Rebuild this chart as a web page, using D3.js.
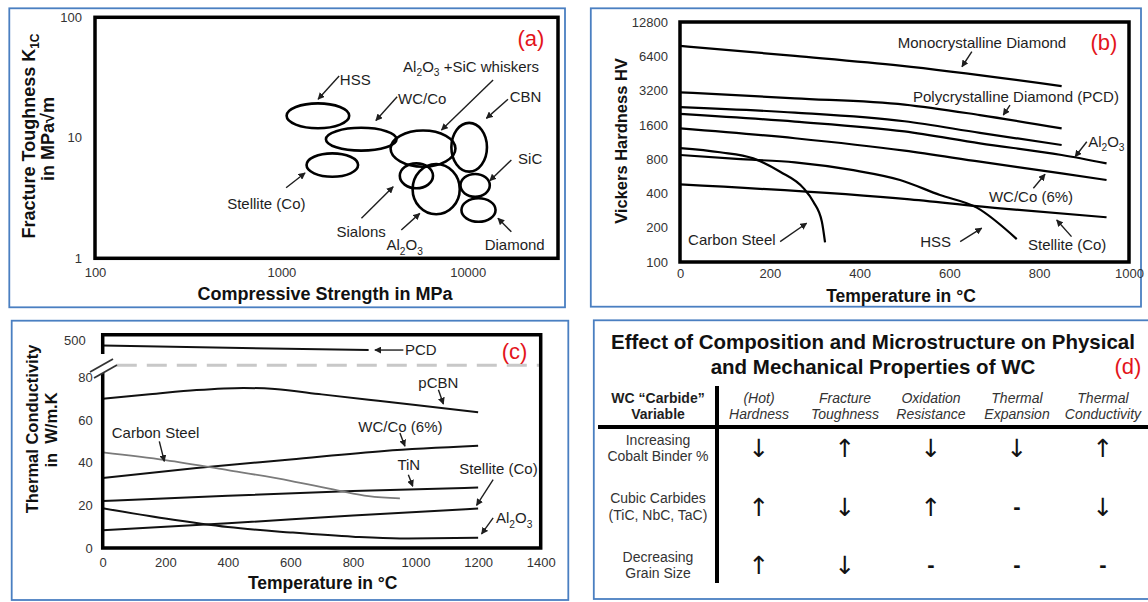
<!DOCTYPE html>
<html>
<head>
<meta charset="utf-8">
<script src="https://cdn.jsdelivr.net/npm/d3@7"></script>
<style>
  body { margin: 0; background: #fff; }
  svg text { font-family: "Liberation Sans", Arial, sans-serif; }
  svg text.sym { font-family: "DejaVu Sans", sans-serif; }
</style>
</head>
<body>
<svg id="fig" width="1148" height="602"></svg>
<script>
// ---------- (a) fracture toughness vs compressive strength ----------
var matNames = ["HSS", "WC/Co", "Stellite (Co)", "Al2O3 +SiC whiskers", "CBN", "Sialons", "Al2O3", "SiC", "Diamond"];
var strengthLo = [1067, 1734, 1365, 3855, 8170, 4320, 5060, 9140, 9250];
var strengthHi = [2312, 4150, 2580, 8590, 12680, 6510, 9060, 13130, 14100];
var toughLo = [12.0, 7.82, 4.75, 5.75, 5.24, 3.81, 2.32, 3.24, 2.01];
var toughHi = [19.3, 12.1, 7.43, 11.5, 13.3, 6.14, 6.06, 5.01, 3.15];
// annotation anchors, in data units (MPa, MPa.m^0.5)
var matLabelAt = [[2060, 30.6], [4230, 20.9], [512, 2.86], [4500, 38.9], [16800, 21.9], [1977, 1.66], [3665, 1.29], [18620, 6.76], [12330, 1.29]];
var matArrowFrom = [[2042, 32.6], [4180, 21.9], [1060, 3.85], [13680, 30.2], [16440, 20.9], [2690, 2.15], [4400, 1.72], [17140, 6.55], [17140, 1.66]];
var matArrowTo = [[1574, 20.9], [3215, 13.9], [1340, 5.1], [7230, 11.6], [12590, 14.5], [3980, 3.93], [5530, 2.36], [13130, 4.41], [14520, 2.15]];
var strengthTicks = [100, 1000, 10000];
var toughTicks = [1, 10, 100];

// ---------- (b) hot hardness ----------
var hvTicks = [100, 200, 400, 800, 1600, 3200, 6400, 12800];
var tempTicksB = [0, 200, 400, 600, 800, 1000];
var monoHV = [[0, 7900], [256, 6450], [490, 5300], [850, 3500]];
var pcdHV = [[0, 3090], [256, 2735], [500, 2410], [668, 1950], [850, 1490]];
var cbnHV = [[0, 2290], [256, 2050], [500, 1720], [668, 1360], [850, 1065]];
var aluminaHV = [[0, 2000], [256, 1710], [500, 1400], [668, 1100], [850, 870], [950, 735]];
var wcHV = [[0, 1490], [256, 1220], [500, 950], [668, 760], [850, 600], [950, 525]];
var hssHV = [[0, 870], [126, 803], [256, 750], [386, 640], [490, 525], [579, 387], [661, 300], [750, 159]];
var steelHV = [[0, 1000], [89, 920], [163, 813], [223, 620], [275, 445], [297, 338], [316, 226], [323, 149]];
var stelliteHV = [[0, 480], [512, 355], [713, 296], [950, 247]];
var hvLabelText = ["Monocrystalline Diamond", "Polycrystalline Diamond (PCD)", "Al2O3", "WC/Co (6%)", "Stellite (Co)", "HSS", "Carbon Steel"];
var hvLabelAt = [[485, 8370], [519, 2826], [909, 1138], [688, 374], [775, 141], [535, 151], [18, 156]];
var hvArrowFrom = [[650, 7020], [735, 2389], [906, 1138], [787, 444], [872, 167], [624, 151], [223, 151]];
var hvArrowTo = [[628, 5180], [720, 1952], [880, 840], [813, 589], [839, 234], [672, 198], [282, 219]];

// ---------- (c) thermal conductivity ----------
var tempTicksC = [0, 200, 400, 600, 800, 1000, 1200, 1400];
var kTicksLow = [0, 20, 40, 60, 80];
var kTicksHigh = [500];
var pcdK = [[0, 490], [850, 481]];
var pcbnK = [[0, 70], [150, 72], [300, 74], [450, 75], [550, 74.5], [700, 72], [850, 69.5], [1000, 67], [1200, 63.6]];
var wcK = [[0, 32.8], [300, 37.5], [600, 41.5], [900, 45.5], [1200, 47.9]];
var steelK = [[0, 44.8], [200, 41.2], [400, 36.5], [600, 31.5], [750, 27], [850, 24.3], [950, 23.3]];
var tinK = [[0, 22], [400, 24.5], [800, 26.7], [1200, 28.3]];
var stelliteK = [[0, 8.3], [400, 11.6], [800, 15.2], [1200, 18.5]];
var aluminaK = [[0, 18.6], [200, 13.8], [400, 9.8], [600, 7.3], [800, 5.3], [950, 4.5], [1200, 4.8]];
var kLabelText = ["PCD", "pCBN", "WC/Co (6%)", "Carbon Steel", "TiN", "Stellite (Co)", "Al2O3"];
var kLabelAt = [[966, 481], [1009, 77.3], [817, 57], [29, 53.9], [942, 39], [1140, 37.2], [1257, 14.1]];
var kArrowFrom = [[961, 481], [1073, 74.2], [950, 53.9], [181, 50], [977, 34.3], [1248, 32], [1248, 14.1]];
var kArrowTo = [[870, 481], [1089, 67.5], [966, 47.7], [197, 40.6], [991, 28.9], [1195, 20], [1211, 6.6]];

// ---------- (d) table ----------
var wcVariables = [["Increasing", "Cobalt Binder %"], ["Cubic Carbides", "(TiC, NbC, TaC)"], ["Decreasing", "Grain Size"]];
var wcProperties = [["(Hot)", "Hardness"], ["Fracture", "Toughness"], ["Oxidation", "Resistance"], ["Thermal", "Expansion"], ["Thermal", "Conductivity"]];
var wcEffects = [["↓", "↑", "↓", "↓", "↑"], ["↑", "↓", "↑", "-", "↓"], ["↑", "↓", "-", "-", "-"]];

var svg = d3.select("#fig");
var ink = "#1e1e1e";
var red = "#e3141b";

svg.append("defs").append("marker")
        .attr("id", "ah")
        .attr("viewBox", "0 0 10 10")
        .attr("refX", 9).attr("refY", 5)
        .attr("markerWidth", 7).attr("markerHeight", 7)
        .attr("markerUnits", "userSpaceOnUse")
        .attr("orient", "auto")
        .append("path").attr("d", "M0,0L10,5L0,10z").attr("fill", ink);

function blueBox(x0, y0, x1, y1) {
    svg.append("rect")
            .attr("x", x0).attr("y", y0)
            .attr("width", x1 - x0).attr("height", y1 - y0)
            .attr("fill", "none").attr("stroke", "#4a7fc1").attr("stroke-width", 1.8);
}

// text with Al2O3 subscripts, y is the vertical centre
function label(g, str, x, y, size, anchor, extra) {
    var t = g.append("text")
            .attr("x", x).attr("y", y + size * 0.35)
            .attr("font-size", size)
            .attr("text-anchor", anchor || "start")
            .attr("fill", ink);
    if (extra) extra(t);
    var shift = size * 0.3, pending = 0;
    str.split(/(Al2O3)/).forEach(function (p) {
        if (p === "Al2O3") {
            t.append("tspan").attr("dy", pending).text("Al");
            t.append("tspan").attr("font-size", size * 0.68).attr("dy", shift).text("2");
            t.append("tspan").attr("dy", -shift).text("O");
            t.append("tspan").attr("font-size", size * 0.68).attr("dy", shift).text("3");
            pending = -shift;
        } else if (p) {
            t.append("tspan").attr("dy", pending).text(p);
            pending = 0;
        }
    });
    return t;
}

function arrow(g, p0, p1) {
    g.append("line")
            .attr("x1", p0[0]).attr("y1", p0[1])
            .attr("x2", p1[0]).attr("y2", p1[1])
            .attr("stroke", ink).attr("stroke-width", 1.4)
            .attr("marker-end", "url(#ah)");
}

function styleAxis(g, size) {
    g.select(".domain").remove();
    g.selectAll("text").attr("font-size", size).attr("fill", "#333");
}

function rotTitle(g, cx, cy, size) {
    return g.append("text")
            .attr("transform", "translate(" + cx + "," + cy + ") rotate(-90)")
            .attr("y", size * 0.35)
            .attr("text-anchor", "middle")
            .attr("font-size", size).attr("font-weight", "bold").attr("fill", "#111");
}

// ======================= panel (a) =======================
blueBox(9.3, 8.3, 565, 307.3);
var gA = svg.append("g");
var xA = d3.scaleLog().domain([100, 30500]).range([95, 558]);
var yA = d3.scaleLog().domain([1, 100]).range([258.3, 17.3]);

gA.append("g").attr("transform", "translate(0,258.3)")
        .call(d3.axisBottom(xA).tickValues(strengthTicks).tickSize(0).tickPadding(9).tickFormat(d3.format("d")))
        .call(styleAxis, 13);
gA.append("g").attr("transform", "translate(95,0)")
        .call(d3.axisLeft(yA).tickValues(toughTicks).tickSize(0).tickPadding(13).tickFormat(d3.format("d")))
        .call(styleAxis, 13);

gA.selectAll("ellipse").data(matNames).enter().append("ellipse")
        .attr("cx", function (d, i) { return (xA(strengthLo[i]) + xA(strengthHi[i])) / 2; })
        .attr("cy", function (d, i) { return (yA(toughLo[i]) + yA(toughHi[i])) / 2; })
        .attr("rx", function (d, i) { return (xA(strengthHi[i]) - xA(strengthLo[i])) / 2; })
        .attr("ry", function (d, i) { return (yA(toughLo[i]) - yA(toughHi[i])) / 2; })
        .attr("fill", "none").attr("stroke", "#000").attr("stroke-width", 2.6);

matNames.forEach(function (n, i) {
    label(gA, n, xA(matLabelAt[i][0]), yA(matLabelAt[i][1]), 15);
    arrow(gA, [xA(matArrowFrom[i][0]), yA(matArrowFrom[i][1])], [xA(matArrowTo[i][0]), yA(matArrowTo[i][1])]);
});

gA.append("rect").attr("x", 95).attr("y", 17.3).attr("width", 463).attr("height", 241)
        .attr("fill", "none").attr("stroke", "#000").attr("stroke-width", 3.5);
gA.append("text").attr("x", 531).attr("y", 46).attr("text-anchor", "middle")
        .attr("font-size", 22).attr("fill", red).text("(a)");

gA.append("text").attr("x", 325).attr("y", 299.5).attr("text-anchor", "middle")
        .attr("font-size", 18).attr("font-weight", "bold").attr("fill", "#111")
        .text("Compressive Strength in MPa");
var tA = rotTitle(gA, 29, 136, 18);
tA.append("tspan").text("Fracture Toughness K");
tA.append("tspan").attr("font-size", 12).attr("dy", 4).text("1C");
rotTitle(gA, 48, 139, 18).text("in MPa√m");

// ======================= panel (b) =======================
blueBox(590.8, 8.3, 1141, 306.7);
var gB = svg.append("g");
var xB = d3.scaleLinear().domain([0, 1000]).range([680, 1129]);
var yB = d3.scaleLog().base(2).domain([100, 12800]).range([262, 22]);

gB.append("g").attr("transform", "translate(0,262)")
        .call(d3.axisBottom(xB).tickValues(tempTicksB).tickSize(0).tickPadding(7).tickFormat(d3.format("d")))
        .call(styleAxis, 13);
gB.append("g").attr("transform", "translate(680,0)")
        .call(d3.axisLeft(yB).tickValues(hvTicks).tickSize(0).tickPadding(12).tickFormat(d3.format("d")))
        .call(styleAxis, 13);

var lineB = d3.line()
        .x(function (d) { return xB(d[0]); })
        .y(function (d) { return yB(d[1]); })
        .curve(d3.curveMonotoneX);
gB.selectAll("path.hv")
        .data([monoHV, pcdHV, cbnHV, aluminaHV, wcHV, hssHV, steelHV, stelliteHV])
        .enter().append("path").attr("class", "hv")
        .attr("d", lineB)
        .attr("fill", "none").attr("stroke", "#000").attr("stroke-width", 2.2);

hvLabelText.forEach(function (n, i) {
    label(gB, n, xB(hvLabelAt[i][0]), yB(hvLabelAt[i][1]), 15);
    arrow(gB, [xB(hvArrowFrom[i][0]), yB(hvArrowFrom[i][1])], [xB(hvArrowTo[i][0]), yB(hvArrowTo[i][1])]);
});

gB.append("rect").attr("x", 680).attr("y", 22).attr("width", 449).attr("height", 240)
        .attr("fill", "none").attr("stroke", "#000").attr("stroke-width", 3.5);
gB.append("text").attr("x", 1104).attr("y", 50).attr("text-anchor", "middle")
        .attr("font-size", 22).attr("fill", red).text("(b)");
gB.append("text").attr("x", 901).attr("y", 302).attr("text-anchor", "middle")
        .attr("font-size", 17.5).attr("font-weight", "bold").attr("fill", "#111")
        .text("Temperature in °C");
rotTitle(gB, 621, 141, 16.5).text("Vickers Hardness HV");

// ======================= panel (c) =======================
blueBox(11.7, 320.7, 568.3, 600);
var gC = svg.append("g");
var xC = d3.scaleLinear().domain([0, 1400]).range([102.7, 540.7]);
var kLow = d3.scaleLinear().domain([0, 80]).range([548, 377.3]);
var kHigh = d3.scaleLinear().domain([450, 500]).range([365.3, 340.7]);
var kY = function (v) { return v > 100 ? kHigh(v) : kLow(v); };

gC.append("g").attr("transform", "translate(0,548)")
        .call(d3.axisBottom(xC).tickValues(tempTicksC).tickSize(0).tickPadding(10).tickFormat(d3.format("d")))
        .call(styleAxis, 13);
gC.append("g").attr("transform", "translate(102.7,0)")
        .call(d3.axisLeft(kLow).tickValues(kTicksLow).tickSize(0).tickPadding(10))
        .call(styleAxis, 13);
gC.append("g").attr("transform", "translate(102.7,0)")
        .call(d3.axisLeft(kHigh).tickValues(kTicksHigh).tickSize(0).tickPadding(17))
        .call(styleAxis, 13);

// broken-axis marker
gC.append("line").attr("x1", xC(45)).attr("x2", xC(1395))
        .attr("y1", kHigh(450)).attr("y2", kHigh(450))
        .attr("stroke", "#c8c8c8").attr("stroke-width", 3).attr("stroke-dasharray", "20,10");

var lineC = d3.line()
        .x(function (d) { return xC(d[0]); })
        .y(function (d) { return kY(d[1]); })
        .curve(d3.curveMonotoneX);
gC.selectAll("path.k")
        .data([pcdK, pcbnK, wcK, tinK, stelliteK, aluminaK])
        .enter().append("path").attr("class", "k")
        .attr("d", lineC)
        .attr("fill", "none").attr("stroke", "#111").attr("stroke-width", 2);
gC.append("path").datum(steelK).attr("d", lineC)
        .attr("fill", "none").attr("stroke", "#7a7a7a").attr("stroke-width", 1.8);

kLabelText.forEach(function (n, i) {
    label(gC, n, xC(kLabelAt[i][0]), kY(kLabelAt[i][1]), 15);
    arrow(gC, [xC(kArrowFrom[i][0]), kY(kArrowFrom[i][1])], [xC(kArrowTo[i][0]), kY(kArrowTo[i][1])]);
});

gC.append("path")
        .attr("d", "M102.7,354V334.7H540.7V548H102.7V373")
        .attr("fill", "none").attr("stroke", "#000").attr("stroke-width", 3.5);
gC.append("line").attr("x1", 90).attr("y1", 372).attr("x2", 113).attr("y2", 359)
        .attr("stroke", "#333").attr("stroke-width", 1.8);
gC.append("line").attr("x1", 94).attr("y1", 378).attr("x2", 117).attr("y2", 365)
        .attr("stroke", "#333").attr("stroke-width", 1.8);
gC.append("text").attr("x", 514.5).attr("y", 359).attr("text-anchor", "middle")
        .attr("font-size", 22).attr("fill", red).text("(c)");
gC.append("text").attr("x", 322.7).attr("y", 589).attr("text-anchor", "middle")
        .attr("font-size", 17.5).attr("font-weight", "bold").attr("fill", "#111")
        .text("Temperature in °C");
rotTitle(gC, 32.5, 429, 16.5).text("Thermal Conductivity");
rotTitle(gC, 51.7, 430, 16.5).attr("xml:space", "preserve").text("in  W/m.K");

// ======================= panel (d) =======================
blueBox(593.8, 320.3, 1150, 599);
var gD = svg.append("g");
gD.append("text").attr("x", 873).attr("y", 349).attr("text-anchor", "middle")
        .attr("font-size", 20.5).attr("font-weight", "bold").attr("fill", "#111")
        .text("Effect of Composition and Microstructure on Physical");
gD.append("text").attr("x", 873).attr("y", 374).attr("text-anchor", "middle")
        .attr("font-size", 20.5).attr("font-weight", "bold").attr("fill", "#111")
        .text("and Mechanical Properties of WC");
gD.append("text").attr("x", 1128).attr("y", 374).attr("text-anchor", "middle")
        .attr("font-size", 22).attr("fill", red).text("(d)");

var colX = d3.scalePoint().domain(d3.range(wcProperties.length)).range([759, 1103]);
var rowY = d3.scalePoint().domain(d3.range(wcVariables.length)).range([448, 565]);

label(gD, "WC “Carbide”", 658, 398, 14, "middle", function (t) { t.attr("font-weight", "bold"); });
label(gD, "Variable", 658, 414.5, 14, "middle", function (t) { t.attr("font-weight", "bold"); });

wcProperties.forEach(function (p, j) {
    p.forEach(function (line, k) {
        label(gD, line, colX(j), 398 + k * 16.5, 14, "middle", function (t) {
            t.attr("font-style", "italic").attr("fill", "#333");
        });
    });
});
wcVariables.forEach(function (v, i) {
    v.forEach(function (line, k) {
        label(gD, line, 658, rowY(i) - 8 + k * 16.5, 14, "middle", function (t) { t.attr("fill", "#333"); });
    });
    wcEffects[i].forEach(function (e, j) {
        var isDash = e === "-";
        gD.append("text")
                .attr("class", isDash ? "dash" : "sym")
                .attr("x", colX(j))
                .attr("y", rowY(i) + (isDash ? 7 : 9))
                .attr("text-anchor", "middle")
                .attr("font-size", isDash ? 22 : 25)
                .attr("font-weight", isDash ? "bold" : "normal")
                .attr("fill", "#111")
                .text(e);
    });
});

gD.append("line").attr("x1", 717).attr("x2", 717).attr("y1", 386).attr("y2", 583)
        .attr("stroke", "#000").attr("stroke-width", 4);
gD.append("line").attr("x1", 598).attr("x2", 1148).attr("y1", 427).attr("y2", 427)
        .attr("stroke", "#000").attr("stroke-width", 4);
</script>
</body>
</html>
